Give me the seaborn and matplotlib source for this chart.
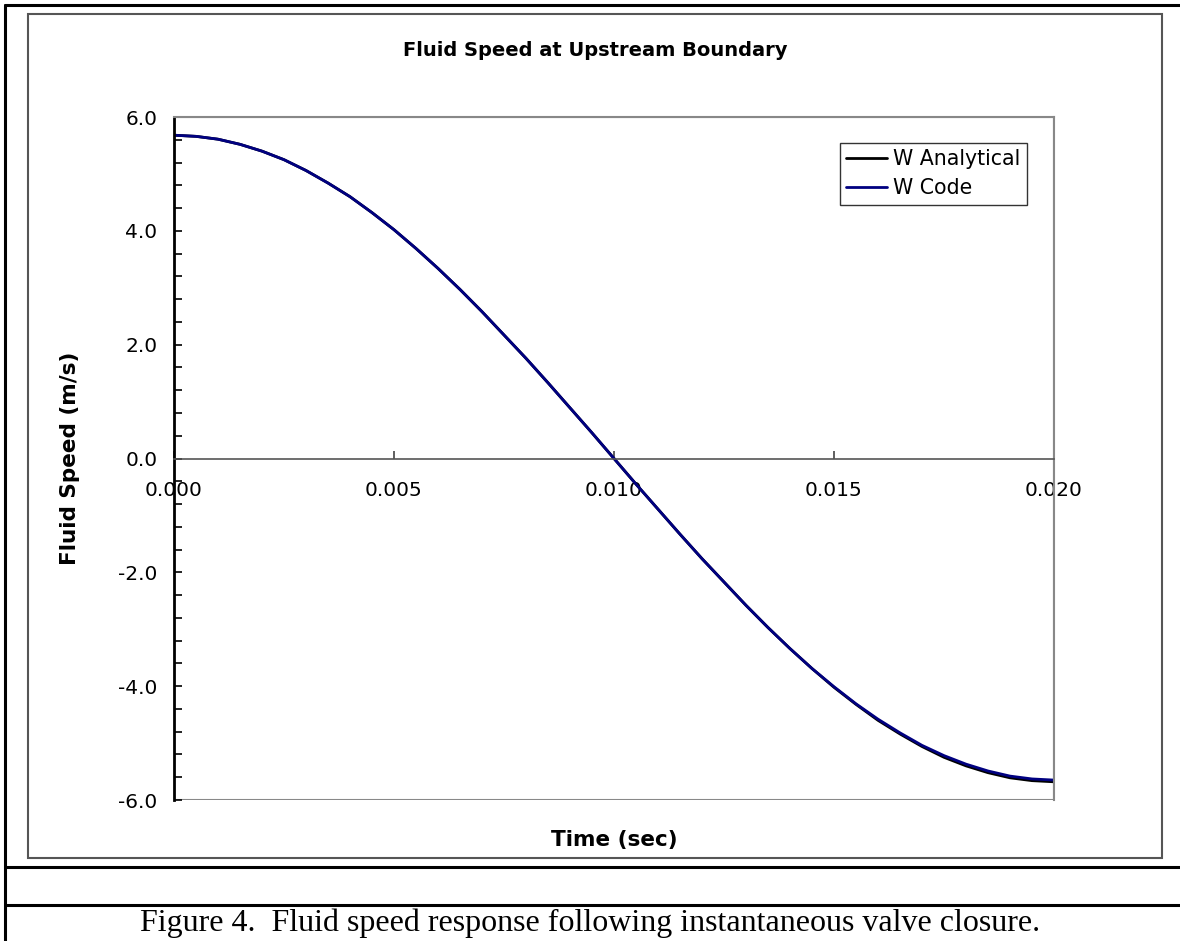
import numpy as np
import pandas as pd
import seaborn as sns
import matplotlib.pyplot as plt
from matplotlib.lines import Line2D
from matplotlib.patches import Rectangle

# values
time_s = [0.0000, 0.0005, 0.0010, 0.0015, 0.0020, 0.0025, 0.0030, 0.0035, 0.0040, 0.0045,
          0.0050, 0.0055, 0.0060, 0.0065, 0.0070, 0.0075, 0.0080, 0.0085, 0.0090, 0.0095,
          0.0100, 0.0105, 0.0110, 0.0115, 0.0120, 0.0125, 0.0130, 0.0135, 0.0140, 0.0145,
          0.0150, 0.0155, 0.0160, 0.0165, 0.0170, 0.0175, 0.0180, 0.0185, 0.0190, 0.0195,
          0.0200]
w_analytical = [5.68, 5.66, 5.61, 5.52, 5.40, 5.25, 5.06, 4.84, 4.60, 4.32,
                4.02, 3.69, 3.34, 2.97, 2.58, 2.17, 1.76, 1.33, 0.89, 0.45,
                0.00, -0.45, -0.89, -1.33, -1.76, -2.17, -2.58, -2.97, -3.34, -3.69,
                -4.02, -4.32, -4.60, -4.84, -5.06, -5.25, -5.40, -5.52, -5.61, -5.66,
                -5.68]
w_code = [5.68, 5.66, 5.61, 5.52, 5.40, 5.25, 5.06, 4.84, 4.60, 4.32,
          4.02, 3.69, 3.34, 2.97, 2.58, 2.17, 1.76, 1.33, 0.89, 0.45,
          0.00, -0.45, -0.89, -1.33, -1.76, -2.17, -2.58, -2.97, -3.34, -3.69,
          -4.01, -4.31, -4.58, -4.82, -5.04, -5.22, -5.37, -5.49, -5.58, -5.63,
          -5.65]
series_names = ['W Analytical', 'W Code']
series_colors = ['#000000', '#000080']

df = pd.DataFrame({
    'Time': time_s * 2,
    'Speed': w_analytical + w_code,
    'Series': [series_names[0]] * len(time_s) + [series_names[1]] * len(time_s),
})

sns.set_style('white')
plt.rcParams['font.family'] = ['DejaVu Sans']
plt.rcParams['text.color'] = 'black'
plt.rcParams['axes.labelcolor'] = 'black'
plt.rcParams['xtick.color'] = 'black'
plt.rcParams['ytick.color'] = 'black'

W, H = 1180, 941
fig = plt.figure(figsize=(11.8, 9.41), dpi=100)
ax = fig.add_axes([174 / W, 1 - 800 / H, 880 / W, 683 / H])

sns.lineplot(data=df, x='Time', y='Speed', hue='Series', palette=series_colors,
             linewidth=2.0, ax=ax, legend=False)

ax.set_xlim(0, 0.020)
ax.set_ylim(-6, 6)
ax.set_xticks([0.0, 0.005, 0.010, 0.015, 0.020])
ax.set_xticklabels(['0.000', '0.005', '0.010', '0.015', '0.020'])
ax.set_yticks([-6, -4, -2, 0, 2, 4, 6])
ax.set_yticklabels(['-6.0', '-4.0', '-2.0', '0.0', '2.0', '4.0', '6.0'])
ax.set_yticks(np.arange(-6, 6.01, 0.4), minor=True)

ax.tick_params(axis='y', which='both', direction='in', length=6, width=1.2,
               color='black', labelcolor='black', labelsize=14.5, pad=12, left=True)
ax.tick_params(axis='x', which='major', direction='in', length=6, width=1.2,
               color='#444444', labelcolor='black', labelsize=14.5, pad=16, bottom=True)

for s in ['top', 'right']:
    ax.spines[s].set_color('#888888')
    ax.spines[s].set_linewidth(1.5)
ax.spines['left'].set_color('black')
ax.spines['left'].set_linewidth(2)
ax.spines['bottom'].set_position(('data', 0))
ax.spines['bottom'].set_color('#555555')
ax.spines['bottom'].set_linewidth(1.2)
ax.add_patch(Rectangle((0, 0), 1, 1, transform=ax.transAxes, fill=False,
                       edgecolor='#888888', linewidth=1.5, zorder=0))

ax.set_xlabel('Time (sec)', fontsize=15.5, fontweight='bold', color='black')
ax.xaxis.set_label_coords(0.5, (800 - 840) / 683)
ax.xaxis.label.set_va('center')
ax.set_ylabel('Fluid Speed (m/s)', fontsize=15.5, fontweight='bold', color='black')
ax.yaxis.set_label_coords((70 - 174) / 880, 0.5)
ax.yaxis.label.set_va('center')

handles = [Line2D([], [], color=c, linewidth=2) for c in series_colors]
leg = ax.legend(handles, series_names, loc='upper left',
                bbox_to_anchor=((840 - 174) / 880, (800 - 143) / 683),
                borderaxespad=0, fontsize=14.8, frameon=True, fancybox=False,
                handlelength=2.0, handletextpad=0.3, borderpad=0.3,
                labelspacing=0.45)
leg.get_frame().set_edgecolor('black')
leg.get_frame().set_linewidth(1.0)
for t in leg.get_texts():
    t.set_color('black')

fig.text(595 / W, 1 - 50 / H, 'Fluid Speed at Upstream Boundary',
         fontsize=14, fontweight='bold', color='black', ha='center', va='center')

# chart area box and document frame lines
fig.add_artist(Rectangle((28 / W, 1 - 858 / H), (1162 - 28) / W, (858 - 14) / H,
                         transform=fig.transFigure, fill=False,
                         edgecolor='#555555', linewidth=1.5))
fig.add_artist(Line2D([5 / W, 1], [1 - 5 / H, 1 - 5 / H], color='black', linewidth=2.2))
fig.add_artist(Line2D([5 / W, 5 / W], [0, 1 - 5 / H], color='black', linewidth=2.2))
for yy in [867, 905]:
    fig.add_artist(Line2D([5 / W, 1], [1 - yy / H, 1 - yy / H], color='black', linewidth=2.2))

fig.text(590 / W, 1 - 931 / H,
         'Figure 4.  Fluid speed response following instantaneous valve closure.',
         fontsize=23, family='Liberation Serif', color='black', ha='center', va='baseline')

fig.savefig('out.png', dpi=100)
